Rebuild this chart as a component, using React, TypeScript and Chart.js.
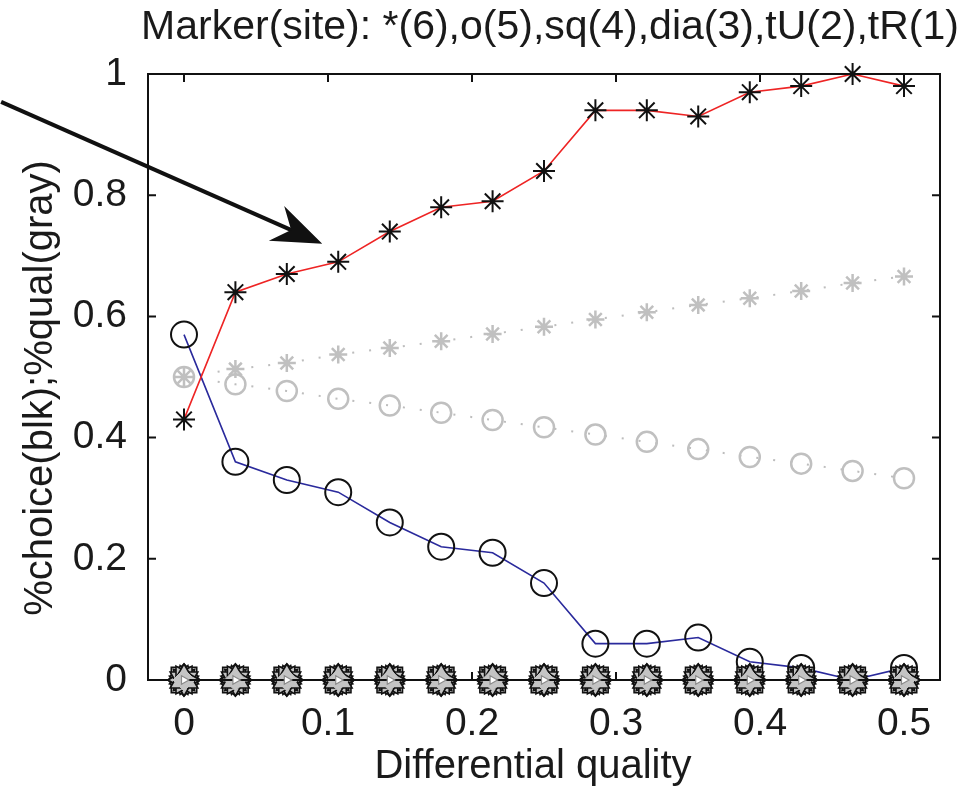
import React, { useEffect, useRef } from 'react';
import { Chart, registerables } from 'chart.js';

Chart.register(...registerables);

const titleText = 'Marker(site): *(6),o(5),sq(4),dia(3),tU(2),tR(1)';
const xLabel = 'Differential quality';
const yLabel = '%choice(blk);%qual(gray)';

const xValues = [0, 0.0357, 0.0714, 0.1071, 0.1429, 0.1786, 0.2143, 0.25, 0.2857, 0.3214, 0.3571, 0.3929, 0.4286, 0.4643, 0.5];
const choiceSite6 = [0.43, 0.64, 0.67, 0.69, 0.74, 0.78, 0.79, 0.84, 0.94, 0.94, 0.93, 0.97, 0.98, 1.0, 0.98];
const choiceSite5 = [0.57, 0.36, 0.33, 0.31, 0.26, 0.22, 0.21, 0.16, 0.06, 0.06, 0.07, 0.03, 0.02, 0.0, 0.02];
const qualSite6 = [0.5, 0.513, 0.523, 0.537, 0.548, 0.559, 0.571, 0.583, 0.595, 0.607, 0.619, 0.630, 0.642, 0.655, 0.666];
const qualSite5 = [0.5, 0.488, 0.477, 0.464, 0.453, 0.441, 0.429, 0.417, 0.405, 0.393, 0.381, 0.368, 0.357, 0.345, 0.333];
const choiceSites1to4 = [0, 0, 0, 0, 0, 0, 0, 0, 0, 0, 0, 0, 0, 0, 0];

const xTicks = [0, 0.1, 0.2, 0.3, 0.4, 0.5];
const xTickLabels = ['0', '0.1', '0.2', '0.3', '0.4', '0.5'];
const yTicks = [0, 0.2, 0.4, 0.6, 0.8, 1];
const yTickLabels = ['0', '0.2', '0.4', '0.6', '0.8', '1'];

// arrow annotation (data coordinates)
const arrowFrom = { x: -0.127, y: 0.954 };
const arrowTo = { x: 0.096, y: 0.72 };

const FONT = "'Liberation Sans', Arial, Helvetica, sans-serif";
const TEXT = '#1a1a1a';

const pts = (ys: number[]) => ys.map((y, i) => ({ x: xValues[i], y }));

const decorPlugin = {
  id: 'matlabDecor',
  beforeDatasetsDraw(chart: any) {
    const { ctx, chartArea: a, scales } = chart;
    ctx.save();
    ctx.strokeStyle = '#111';
    ctx.lineWidth = 2;
    ctx.strokeRect(a.left, a.top, a.right - a.left, a.bottom - a.top);
    const tl = 8;
    ctx.beginPath();
    xTicks.forEach((v) => {
      const px = scales.x.getPixelForValue(v);
      ctx.moveTo(px, a.bottom);
      ctx.lineTo(px, a.bottom - tl);
      ctx.moveTo(px, a.top);
      ctx.lineTo(px, a.top + tl);
    });
    yTicks.forEach((v) => {
      const py = scales.y.getPixelForValue(v);
      ctx.moveTo(a.left, py);
      ctx.lineTo(a.left + tl, py);
      ctx.moveTo(a.right, py);
      ctx.lineTo(a.right - tl, py);
    });
    ctx.stroke();

    // title and axis labels
    ctx.fillStyle = TEXT;
    ctx.textAlign = 'center';
    ctx.textBaseline = 'middle';
    ctx.font = `41px ${FONT}`;
    ctx.fillText(titleText, (a.left + a.right) / 2 + 6, 28);
    ctx.font = `40px ${FONT}`;
    ctx.fillText(xLabel, (a.left + a.right) / 2 - 11, 767);
    ctx.save();
    ctx.translate(41, (a.top + a.bottom) / 2 + 11);
    ctx.rotate(-Math.PI / 2);
    ctx.fillText(yLabel, 0, 0);
    ctx.restore();
    ctx.restore();
  },
  afterDatasetsDraw(chart: any) {
    const { ctx, scales } = chart;
    const x0 = scales.x.getPixelForValue(arrowFrom.x);
    const y0 = scales.y.getPixelForValue(arrowFrom.y);
    const x1 = scales.x.getPixelForValue(arrowTo.x);
    const y1 = scales.y.getPixelForValue(arrowTo.y);
    const dx = x1 - x0;
    const dy = y1 - y0;
    const len = Math.hypot(dx, dy);
    const ux = dx / len;
    const uy = dy / len;
    const nx = -uy;
    const ny = ux;
    const L = 50;
    const W = 19;
    ctx.save();
    ctx.strokeStyle = '#111';
    ctx.fillStyle = '#111';
    ctx.lineWidth = 4;
    ctx.beginPath();
    ctx.moveTo(x0, y0);
    ctx.lineTo(x1 - ux * L * 0.6, y1 - uy * L * 0.6);
    ctx.stroke();
    ctx.beginPath();
    ctx.moveTo(x1, y1);
    ctx.lineTo(x1 - ux * L + nx * W, y1 - uy * L + ny * W);
    ctx.lineTo(x1 - ux * L * 0.68, y1 - uy * L * 0.68);
    ctx.lineTo(x1 - ux * L - nx * W, y1 - uy * L - ny * W);
    ctx.closePath();
    ctx.fill();
    ctx.restore();
  },
};

export default function App() {
  const ref = useRef<HTMLCanvasElement | null>(null);

  useEffect(() => {
    if (!ref.current) return;
    const bottomMarker = (style: string, rot: number, fill: string, border: string, r: number, bw = 1.6) => ({
      data: pts(choiceSites1to4),
      borderColor: '#111',
      borderWidth: 2,
      pointStyle: style,
      pointRotation: rot,
      pointRadius: r,
      pointBackgroundColor: fill,
      pointBorderColor: border,
      pointBorderWidth: bw,
      clip: false,
      tension: 0,
    });
    const chart = new Chart(ref.current, {
      type: 'line',
      data: {
        datasets: [
          bottomMarker('triangle', 90, '#ffffff', '#8a8a8a', 5, 1.2),
          bottomMarker('rectRot', 0, '#c4c4c4', '#c4c4c4', 11, 1),
          bottomMarker('triangle', 0, '#c4c4c4', '#111', 16),
          bottomMarker('triangle', 90, '#c4c4c4', '#111', 16),
          bottomMarker('triangle', 180, '#c4c4c4', '#111', 16),
          bottomMarker('triangle', 270, '#c4c4c4', '#111', 16),
          bottomMarker('triangle', 45, '#c4c4c4', '#111', 15),
          bottomMarker('triangle', 135, '#c4c4c4', '#111', 15),
          bottomMarker('triangle', 225, '#c4c4c4', '#111', 15),
          bottomMarker('triangle', 315, '#c4c4c4', '#111', 15),
          bottomMarker('rectRot', 0, '#c4c4c4', '#111', 16),
          bottomMarker('rect', 0, '#c4c4c4', '#111', 18),
          {
            data: pts(choiceSite6),
            borderColor: '#ee2424',
            borderWidth: 1.6,
            pointStyle: 'star',
            pointRadius: 11,
            pointBorderColor: '#111',
            pointBackgroundColor: 'rgba(0,0,0,0)',
            pointBorderWidth: 2,
            clip: false,
          },
          {
            data: pts(choiceSite5),
            borderColor: '#2a2a9c',
            borderWidth: 1.6,
            pointStyle: 'circle',
            pointRadius: 13,
            pointBorderColor: '#111',
            pointBackgroundColor: 'rgba(0,0,0,0)',
            pointBorderWidth: 2,
            clip: false,
          },
          {
            data: pts(qualSite6),
            borderColor: '#bdbdbd',
            borderWidth: 2,
            borderDash: [2, 15],
            pointStyle: 'star',
            pointRadius: 9,
            pointBorderColor: '#c0c0c0',
            pointBackgroundColor: 'rgba(0,0,0,0)',
            pointBorderWidth: 2.5,
            clip: false,
          },
          {
            data: pts(qualSite5),
            borderColor: '#bdbdbd',
            borderWidth: 2,
            borderDash: [2, 15],
            pointStyle: 'circle',
            pointRadius: 10,
            pointBorderColor: '#c0c0c0',
            pointBackgroundColor: 'rgba(0,0,0,0)',
            pointBorderWidth: 2.5,
            clip: false,
          },
        ],
      },
      options: {
        responsive: false,
        animation: false,
        devicePixelRatio: 1,
        layout: { padding: { left: 0, right: 39, top: 74, bottom: 0 } },
        plugins: {
          legend: { display: false },
          tooltip: { enabled: false },
          title: { display: false },
        },
        scales: {
          x: {
            type: 'linear',
            min: -0.025,
            max: 0.525,
            afterBuildTicks: (s: any) => {
              s.ticks = xTicks.map((v) => ({ value: v }));
            },
            afterFit: (s: any) => {
              s.height = 114;
            },
            grid: { display: false },
            border: { display: false },
            ticks: {
              autoSkip: false,
              maxRotation: 0,
              padding: 13,
              color: TEXT,
              font: { family: FONT, size: 39, lineHeight: 1.2 },
              callback: (_v: any, i: number) => xTickLabels[i],
            },
          },
          y: {
            type: 'linear',
            min: 0,
            max: 1,
            afterBuildTicks: (s: any) => {
              s.ticks = yTicks.map((v) => ({ value: v }));
            },
            afterFit: (s: any) => {
              s.width = 148;
            },
            grid: { display: false },
            border: { display: false },
            ticks: {
              autoSkip: false,
              padding: 13,
              color: TEXT,
              font: { family: FONT, size: 39, lineHeight: 1.2 },
              callback: (_v: any, i: number) => yTickLabels[i],
            },
          },
        },
      },
      plugins: [decorPlugin],
    } as any);
    return () => chart.destroy();
  }, []);

  return (
    <div style={{ position: 'absolute', left: 0, top: 0, width: 979, height: 794, background: '#fff' }}>
      <canvas ref={ref} width={979} height={794} style={{ width: 979, height: 794 }} />
    </div>
  );
}
